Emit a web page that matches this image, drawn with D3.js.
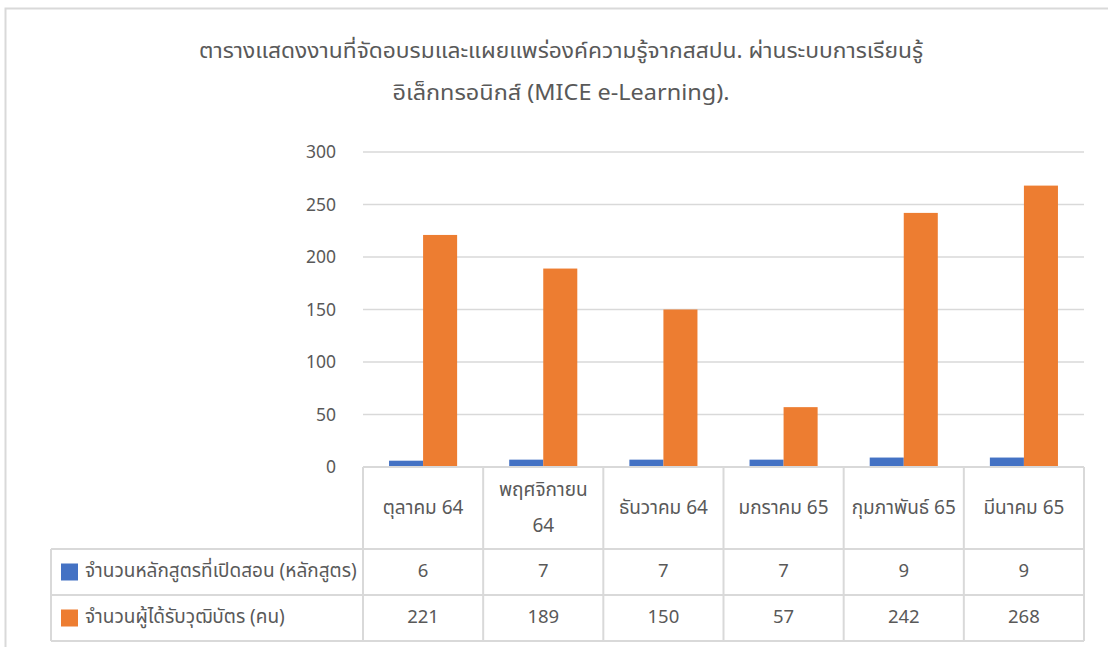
<!DOCTYPE html>
<html>
<head>
<meta charset="utf-8">
<script src="https://cdn.jsdelivr.net/npm/d3@7"></script>
<style>
  body { margin: 0; background: #fff; }
  svg text { font-family: "Noto Sans", "Noto Sans Thai", "DejaVu Sans", sans-serif; fill: #595959; }
</style>
</head>
<body>
<svg id="chart" width="1108" height="647"></svg>
<script>
var titleLines = ['ตารางแสดงงานที่จัดอบรมและแผยแพร่องค์ความรู้จากสสปน. ผ่านระบบการเรียนรู้', 'อิเล็กทรอนิกส์ (MICE e-Learning).'];
var months = ['ตุลาคม 64', 'พฤศจิกายน 64', 'ธันวาคม 64', 'มกราคม 65', 'กุมภาพันธ์ 65', 'มีนาคม 65'];
var seriesNames = ['จำนวนหลักสูตรที่เปิดสอน (หลักสูตร)', 'จำนวนผู้ได้รับวุฒิบัตร (คน)'];
var courses = [6, 7, 7, 7, 9, 9];
var graduates = [221, 189, 150, 57, 242, 268];
var yTicks = [0, 50, 100, 150, 200, 250, 300];
var colors = ['#4472C4', '#ED7D31'];

var series = [courses, graduates];
var svg = d3.select('#chart');
var gridColor = '#d9d9d9';

// outer frame
svg.append('rect')
	.attr('x', 5.5).attr('y', 8.5)
	.attr('width', 1120).attr('height', 660)
	.attr('fill', 'none')
	.attr('stroke', gridColor)
	.attr('stroke-width', 2);

// title
var titleWidths = [724, 337];
svg.selectAll('text.title')
	.data(titleLines)
	.enter()
	.append('text')
	.attr('class', 'title')
	.attr('x', 561)
	.attr('y', function(d, i) { return 58 + i * 42; })
	.attr('text-anchor', 'middle')
	.attr('font-size', 21)
	.attr('textLength', function(d, i) { return titleWidths[i]; })
	.attr('lengthAdjust', 'spacingAndGlyphs')
	.text(function(d) { return d; });

var plotLeft = 363, plotRight = 1084, plotTop = 152, plotBottom = 467;
var tableLeft = 51, headerBottom = 549, rowH = 46;

var x = d3.scaleBand().domain(months).range([plotLeft, plotRight]);
var x1 = d3.scaleBand().domain([0, 1]).range([0, x.bandwidth()]).paddingInner(0).paddingOuter(0.765);
var y = d3.scaleLinear().domain([0, 300]).range([plotBottom, plotTop]);

// gridlines
svg.selectAll('line.grid')
	.data(yTicks.slice(1))
	.enter()
	.append('line')
	.attr('x1', plotLeft).attr('x2', plotRight)
	.attr('y1', function(d) { return y(d); })
	.attr('y2', function(d) { return y(d); })
	.attr('stroke', gridColor)
	.attr('stroke-width', 1.3);

// y axis labels
var yAxis = d3.axisLeft(y).tickValues(yTicks).tickSize(0).tickPadding(0);
var yg = svg.append('g').attr('transform', 'translate(336,0)').call(yAxis);
yg.select('.domain').remove();
yg.selectAll('text')
	.attr('font-size', 17.5)
	.attr('font-family', null)
	.attr('fill', '#595959');

// bars
svg.selectAll('g.group')
	.data(months)
	.enter()
	.append('g')
	.attr('class', 'group')
	.attr('transform', function(d) { return 'translate(' + x(d) + ',0)'; })
	.each(function(m, mi) {
		d3.select(this)
			.selectAll('rect')
			.data(series.map(function(s, si) { return {si: si, v: s[mi]}; }))
			.enter()
			.append('rect')
			.attr('x', function(d) { return x1(d.si); })
			.attr('width', x1.bandwidth())
			.attr('y', function(d) { return y(d.v); })
			.attr('height', function(d) { return plotBottom - y(d.v); })
			.attr('fill', function(d) { return colors[d.si]; });
	});

// data table lines
var lines = svg.append('g').attr('stroke', gridColor).attr('stroke-width', 2).attr('fill', 'none');
lines.append('line').attr('x1', plotLeft).attr('x2', plotRight).attr('y1', plotBottom).attr('y2', plotBottom);
[headerBottom, headerBottom + rowH, headerBottom + rowH * 2].forEach(function(yy) {
	lines.append('line').attr('x1', tableLeft).attr('x2', plotRight).attr('y1', yy).attr('y2', yy);
});
lines.append('line').attr('x1', tableLeft).attr('x2', tableLeft).attr('y1', headerBottom).attr('y2', headerBottom + rowH * 2);
months.forEach(function(m) {
	lines.append('line').attr('x1', x(m)).attr('x2', x(m)).attr('y1', plotBottom).attr('y2', headerBottom + rowH * 2);
});
lines.append('line').attr('x1', plotRight).attr('x2', plotRight).attr('y1', plotBottom).attr('y2', headerBottom + rowH * 2);

// category headers, wrapped if too wide
months.forEach(function(m) {
	var cx = x(m) + x.bandwidth() / 2;
	var t = svg.append('text')
		.attr('x', cx).attr('text-anchor', 'middle')
		.attr('font-size', 19)
		.attr('y', 514)
		.text(m);
	if (t.node().getComputedTextLength() > x.bandwidth() - 10) {
		var parts = m.split(' ');
		t.text(null);
		parts.forEach(function(p, i) {
			t.append('tspan').attr('x', cx).attr('y', 496 + i * 36).text(p);
		});
	}
});

// table rows
series.forEach(function(s, si) {
	var rowMid = headerBottom + rowH * si + rowH / 2;
	svg.append('rect')
		.attr('x', 61).attr('y', rowMid - 8.5)
		.attr('width', 17).attr('height', 17)
		.attr('fill', colors[si]);
	svg.append('text')
		.attr('x', 85).attr('y', rowMid + 5)
		.attr('font-size', 19)
		.text(seriesNames[si]);
	svg.selectAll(null)
		.data(s)
		.enter()
		.append('text')
		.attr('x', function(d, i) { return x(months[i]) + x.bandwidth() / 2; })
		.attr('y', rowMid + 5)
		.attr('text-anchor', 'middle')
		.attr('font-size', 18.5)
		.text(function(d) { return d; });
});
</script>
</body>
</html>
